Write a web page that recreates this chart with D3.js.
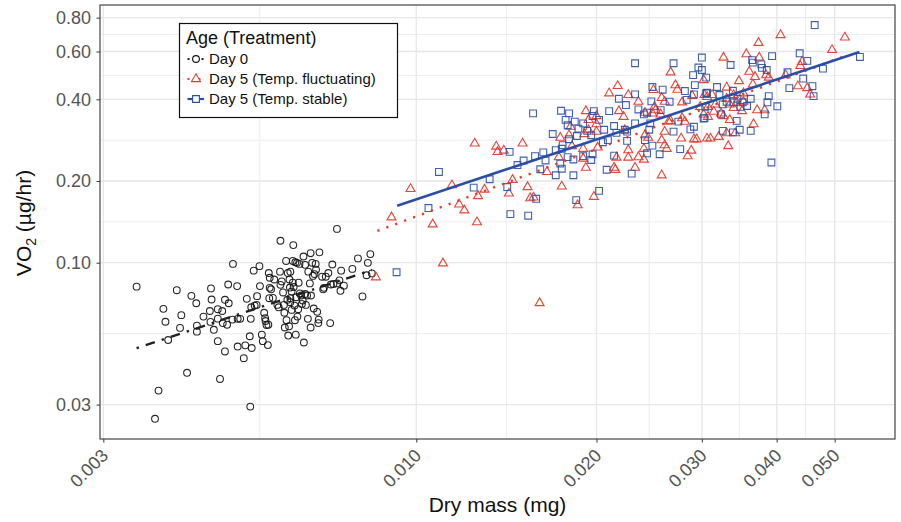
<!DOCTYPE html>
<html>
<head>
<meta charset="utf-8">
<script src="https://cdn.jsdelivr.net/npm/d3@7"></script>
<style>
  body { margin: 0; background: #fff; }
  svg { display: block; font-family: "Liberation Sans", Arial, Helvetica, sans-serif; }
</style>
</head>
<body>
<svg id="chart" width="901" height="522"></svg>
<script>
// ---------------- DATA ----------------
// Day 0 (mass in mg, VO2 in µg/hr)
const day0Mass = [0.00341,0.00366,0.00371,0.00378,0.00381,0.00385,0.00398,0.00403,0.00405,0.00414,0.00421,0.00429,0.00430,0.00430,0.00441,0.00452,0.00454,0.00455,0.00453,0.00459,0.00466,0.00466,0.00466,0.00470,0.00474,0.00475,0.00479,0.00479,0.00483,0.00485,0.00486,0.00494,0.00493,0.00502,0.00503,0.00508,0.00503,0.00515,0.00518,0.00521,0.00527,0.00528,0.00529,0.00531,0.00530,0.00535,0.00537,0.00541,0.00542,0.00547,0.00548,0.00552,0.00554,0.00557,0.00559,0.00560,0.00562,0.00565,0.00566,0.00568,0.00567,0.00569,0.00572,0.00569,0.00576,0.00579,0.00586,0.00589,0.00592,0.00593,0.00596,0.00599,0.00601,0.00602,0.00603,0.00606,0.00607,0.00609,0.00610,0.00611,0.00613,0.00614,0.00615,0.00616,0.00616,0.00616,0.00619,0.00619,0.00622,0.00622,0.00624,0.00626,0.00627,0.00628,0.00629,0.00630,0.00632,0.00633,0.00635,0.00636,0.00638,0.00639,0.00642,0.00644,0.00646,0.00648,0.00649,0.00652,0.00652,0.00654,0.00657,0.00659,0.00660,0.00664,0.00666,0.00666,0.00667,0.00670,0.00672,0.00674,0.00676,0.00679,0.00680,0.00683,0.00686,0.00687,0.00689,0.00696,0.00699,0.00701,0.00706,0.00713,0.00718,0.00720,0.00724,0.00727,0.00737,0.00744,0.00747,0.00749,0.00757,0.00782,0.00799,0.00813,0.00826,0.00830,0.00838,0.00843,0.00593,0.00623,0.00737];
const day0VO2 = [0.0816,0.0266,0.0338,0.0676,0.0606,0.0519,0.0792,0.0575,0.0641,0.0393,0.0755,0.0709,0.0557,0.0586,0.0633,0.0664,0.0804,0.0732,0.0605,0.0566,0.0514,0.0674,0.0622,0.0373,0.0664,0.0599,0.0730,0.0471,0.0591,0.0831,0.0709,0.0990,0.0617,0.0820,0.0621,0.0621,0.0491,0.0445,0.0496,0.0736,0.0536,0.0295,0.0621,0.0485,0.0685,0.0935,0.0695,0.0699,0.0753,0.0971,0.0820,0.0543,0.0514,0.0654,0.0625,0.0610,0.0589,0.0497,0.0591,0.0740,0.0916,0.0880,0.0798,0.0808,0.0742,0.0867,0.0699,0.0685,0.0927,0.0829,0.0853,0.0777,0.0699,0.0654,0.0577,0.1015,0.0614,0.0730,0.0916,0.0539,0.0583,0.0867,0.0810,0.0740,0.0715,0.0927,0.0783,0.0670,0.0844,0.1015,0.0814,0.0695,0.0614,0.1004,0.0543,0.0746,0.0999,0.0633,0.0674,0.0844,0.0990,0.0771,0.0757,0.0705,0.0726,0.1054,0.0508,0.0767,0.0982,0.0699,0.0757,0.0621,0.0927,0.0839,0.1084,0.0577,0.0757,0.0999,0.0894,0.0678,0.0908,0.0990,0.0943,0.0659,0.0599,0.0617,0.1092,0.0888,0.0798,0.0808,0.0888,0.0916,0.0599,0.0831,0.0985,0.0835,0.0839,0.0861,0.0788,0.0935,0.0823,0.0949,0.1037,0.0751,0.0899,0.0999,0.1076,0.0913,0.1205,0.1161,0.1332];

// Day 5, temperature fluctuating
const fluctMass = [0.01252,0.0136,0.01367,0.0140,0.01505,0.00978,0.01147,0.0130,0.01268,0.01179,0.01203,0.00909,0.01065,0.01263,0.01448,0.01428,0.01534,0.0155,0.0157,0.01653,0.01108,0.00856,0.01607,
  0.0266,0.0217,0.0210,0.0226,0.0249,0.0271,0.0273,0.0289,0.0303,0.0235,0.0257,0.0250,0.0260,0.0278,0.0192,0.0218,0.0222,0.0241,0.0248,0.0251,0.0256,0.0264,0.0266,0.0278,0.0281,0.0298,0.0307,0.0194,0.0200,0.0200,0.0181,0.0194,0.0200,0.0223,0.0241,0.0244,0.0260,0.0257,0.0174,0.0180,0.0191,0.0277,0.0291,0.0294,0.0306,0.0260,0.0262,0.0240,0.0226,0.0226,0.0235,0.0240,0.0216,0.0201,0.0190,0.0182,0.0173,0.0190,0.0192,0.0214,0.0215,0.0232,0.0288,0.0284,0.0257,0.0175,0.0198,0.0186,
  0.0406,0.0373,0.0520,0.0495,0.0356,0.0374,0.0326,0.0441,0.0438,0.0360,0.0368,0.0384,0.0388,0.0346,0.0414,0.0434,0.0450,0.0455,0.0365,0.0330,0.0302,0.0352,0.0339,0.0312,0.0306,0.0330,0.0343,0.0352,0.0316,0.0334,0.0339,0.0350,0.0314,0.0323,0.0326,0.0307,0.0302,0.0371,0.0382,0.0334,0.0366,0.0330,0.0341,0.0320,0.0310,0.0332];
const fluctVO2 = [0.275,0.268,0.256,0.259,0.275,0.187,0.193,0.186,0.176,0.164,0.156,0.147,0.1385,0.141,0.202,0.180,0.190,0.173,0.174,0.216,0.0995,0.0884,0.0710,
  0.503,0.448,0.421,0.415,0.433,0.451,0.434,0.412,0.415,0.392,0.405,0.375,0.392,0.390,0.362,0.362,0.345,0.357,0.355,0.365,0.352,0.331,0.333,0.341,0.331,0.375,0.375,0.336,0.347,0.324,0.317,0.308,0.304,0.308,0.295,0.289,0.304,0.283,0.289,0.295,0.298,0.287,0.285,0.285,0.287,0.271,0.263,0.263,0.260,0.244,0.245,0.240,0.244,0.266,0.263,0.269,0.245,0.242,0.224,0.224,0.220,0.224,0.259,0.247,0.210,0.191,0.175,0.163,
  0.690,0.646,0.676,0.608,0.587,0.570,0.570,0.550,0.531,0.506,0.484,0.491,0.481,0.467,0.491,0.447,0.440,0.417,0.454,0.442,0.471,0.421,0.415,0.415,0.408,0.402,0.389,0.392,0.383,0.383,0.372,0.362,0.360,0.355,0.347,0.345,0.352,0.365,0.365,0.336,0.324,0.300,0.300,0.291,0.287,0.269];

// Day 5, temperature stable
const stableMass = [0.01091,0.01048,0.01247,0.01326,0.01419,0.01436,0.01538,0.01586,0.01432,0.01476,0.01511,0.01579,0.0163,0.01644,0.01611,0.00927,
  0.0232,0.0269,0.0296,0.0290,0.0300,0.0292,0.0248,0.0258,0.0281,0.0232,0.0218,0.0224,0.0247,0.0265,0.0283,0.0291,0.0305,0.01745,0.0180,0.0198,0.0210,0.0235,0.0240,0.0243,0.0256,0.01776,0.0184,0.0197,0.0202,0.0179,0.0190,0.01866,0.0193,0.0206,0.0214,0.0216,0.0232,0.0223,0.0225,0.0225,0.0245,0.0246,0.0274,0.0287,0.0291,0.0302,0.0304,0.0269,0.0169,0.01756,0.0180,0.01855,0.0196,0.0209,0.0205,0.0241,0.0248,0.0171,0.0175,0.0179,0.0183,0.0190,0.0197,0.0196,0.0214,0.0243,0.0255,0.0276,0.0174,0.0175,0.0171,0.0183,0.0208,0.0229,0.0202,0.0185,0.01567,
  0.0463,0.0393,0.0437,0.0450,0.0478,0.0551,0.0364,0.0365,0.0377,0.0378,0.0385,0.0335,0.0300,0.0305,0.0417,0.0443,0.0459,0.0461,0.0420,0.0388,0.0386,0.0401,0.0382,0.0362,0.0357,0.0351,0.0344,0.0338,0.0318,0.0306,0.0321,0.0325,0.0330,0.0339,0.0348,0.0323,0.0303,0.0343,0.0347,0.0338,0.0325,0.0362,0.0392];
const stableVO2 = [0.216,0.159,0.189,0.203,0.190,0.151,0.149,0.172,0.256,0.229,0.238,0.247,0.255,0.238,0.221,0.0922,
  0.543,0.543,0.524,0.491,0.513,0.451,0.444,0.434,0.429,0.417,0.402,0.381,0.393,0.392,0.398,0.417,0.421,0.363,0.355,0.362,0.362,0.367,0.352,0.357,0.365,0.336,0.331,0.347,0.336,0.321,0.326,0.312,0.306,0.309,0.319,0.301,0.326,0.309,0.304,0.281,0.309,0.326,0.331,0.310,0.317,0.340,0.375,0.304,0.298,0.271,0.285,0.293,0.295,0.283,0.278,0.283,0.270,0.260,0.263,0.245,0.240,0.247,0.251,0.239,0.248,0.253,0.251,0.262,0.232,0.222,0.210,0.210,0.220,0.213,0.184,0.170,0.355,
  0.751,0.577,0.591,0.554,0.519,0.573,0.558,0.546,0.538,0.522,0.513,0.535,0.570,0.481,0.503,0.477,0.447,0.411,0.440,0.411,0.390,0.377,0.352,0.402,0.378,0.390,0.402,0.430,0.444,0.423,0.415,0.383,0.392,0.390,0.375,0.352,0.341,0.333,0.309,0.302,0.306,0.306,0.234];

// Fitted regression lines (end points, data units)
const fitDay0Mass = [0.00341, 0.00843];
const fitDay0VO2 = [0.0484, 0.0940];
const fitFluctMass = [0.00861, 0.0519];
const fitFluctVO2 = [0.1309, 0.5766];
const fitStableMass = [0.00929, 0.0550];
const fitStableVO2 = [0.1622, 0.597];

// Axis breaks
const xMajor = [0.003, 0.010, 0.020, 0.030, 0.040, 0.050];
const xLabels = ["0.003", "0.010", "0.020", "0.030", "0.040", "0.050"];
const yMajor = [0.03, 0.10, 0.20, 0.40, 0.60, 0.80];
const yLabels = ["0.03", "0.10", "0.20", "0.40", "0.60", "0.80"];

const groupNames = ["Day 0", "Day 5 (Temp. fluctuating)", "Day 5 (Temp. stable)"];
const legendTitle = "Age (Treatment)";

// ---------------- STYLE / LAYOUT ----------------
const colDay0 = "#111111", colFluct = "#E53B2C", colStable = "#2A4EA6";
const panel = { left: 100, right: 895, top: 5, bottom: 439 };

const svg = d3.select("#chart");
const x = d3.scaleLog().domain([0.002962, 0.06306]).range([panel.left, panel.right]);
const y = d3.scaleLog().domain([0.02241, 0.8903]).range([panel.bottom, panel.top]);

// minor breaks: log-midpoints between majors
const midLog = (a, b) => Math.sqrt(a * b);
const xMinor = d3.pairs(xMajor).map(([a, b]) => midLog(a, b));
const yMinor = d3.pairs(yMajor).map(([a, b]) => midLog(a, b));

const grid = svg.append("g");
grid.selectAll(".xmin").data(xMinor).join("line")
  .attr("x1", d => x(d)).attr("x2", d => x(d)).attr("y1", panel.top).attr("y2", panel.bottom)
  .attr("stroke", "#EDEDF0").attr("stroke-width", 1);
grid.selectAll(".ymin").data(yMinor).join("line")
  .attr("y1", d => y(d)).attr("y2", d => y(d)).attr("x1", panel.left).attr("x2", panel.right)
  .attr("stroke", "#EDEDF0").attr("stroke-width", 1);
grid.selectAll(".xmaj").data(xMajor).join("line")
  .attr("x1", d => x(d)).attr("x2", d => x(d)).attr("y1", panel.top).attr("y2", panel.bottom)
  .attr("stroke", "#E6E6EB").attr("stroke-width", 1.3);
grid.selectAll(".ymaj").data(yMajor).join("line")
  .attr("y1", d => y(d)).attr("y2", d => y(d)).attr("x1", panel.left).attr("x2", panel.right)
  .attr("stroke", "#E6E6EB").attr("stroke-width", 1.3);

// ---------------- POINTS ----------------
const symCircle = d3.symbol().type(d3.symbolCircle).size(36)();
const symTri = d3.symbol().type(d3.symbolTriangle).size(35)();
const symSq = d3.symbol().type(d3.symbolSquare).size(46)();

function drawPoints(mass, vo2, path, color, opacity) {
  svg.append("g").selectAll("path").data(d3.zip(mass, vo2)).join("path")
    .attr("d", path)
    .attr("transform", d => `translate(${x(d[0])},${y(d[1])})`)
    .attr("fill", "none").attr("stroke", color).attr("stroke-width", 1.1)
    .attr("stroke-opacity", opacity);
}
drawPoints(day0Mass, day0VO2, symCircle, colDay0, 0.9);
drawPoints(fluctMass, fluctVO2, symTri, colFluct, 0.95);
drawPoints(stableMass, stableVO2, symSq, colStable, 0.9);

// ---------------- FIT LINES ----------------
const line = d3.line().x(d => x(d[0])).y(d => y(d[1]));
svg.append("path").datum(d3.zip(fitDay0Mass, fitDay0VO2)).attr("d", line)
  .attr("fill", "none").attr("stroke", "#222").attr("stroke-width", 2.4)
  .attr("stroke-dasharray", "2.4,7.2,9.6,7.2");
svg.append("path").datum(d3.zip(fitFluctMass, fitFluctVO2)).attr("d", line)
  .attr("fill", "none").attr("stroke", colFluct).attr("stroke-width", 2.4)
  .attr("stroke-dasharray", "2.2,7.3");
svg.append("path").datum(d3.zip(fitStableMass, fitStableVO2)).attr("d", line)
  .attr("fill", "none").attr("stroke", colStable).attr("stroke-width", 2.6);

// ---------------- PANEL BORDER & AXES ----------------
svg.append("rect").attr("x", panel.left).attr("y", panel.top)
  .attr("width", panel.right - panel.left).attr("height", panel.bottom - panel.top)
  .attr("fill", "none").attr("stroke", "#444").attr("stroke-width", 1.2);

const yAxis = d3.axisLeft(y).tickValues(yMajor).tickFormat((d, i) => yLabels[i]).tickSize(3.5).tickPadding(5.5);
const gy = svg.append("g").attr("transform", `translate(${panel.left},0)`).call(yAxis);
gy.select(".domain").remove();
gy.selectAll(".tick line").attr("stroke", "#444").attr("stroke-width", 1.1);
gy.selectAll(".tick text").attr("fill", "#555").style("font-size", "18px")
  .style("font-family", "'Liberation Sans', Arial, sans-serif");

const xAxis = d3.axisBottom(x).tickValues(xMajor).tickFormat((d, i) => xLabels[i]).tickSize(3.5);
const gx = svg.append("g").attr("transform", `translate(0,${panel.bottom})`).call(xAxis);
gx.select(".domain").remove();
gx.selectAll(".tick line").attr("stroke", "#444").attr("stroke-width", 1.1);
gx.selectAll(".tick text").attr("fill", "#555").style("font-size", "18px")
  .style("font-family", "'Liberation Sans', Arial, sans-serif")
  .attr("text-anchor", "end").attr("y", 0).attr("dy", "0.75em")
  .attr("transform", "translate(-4,8) rotate(-45)");

// axis titles
svg.append("text").attr("x", (panel.left + panel.right) / 2).attr("y", 512)
  .attr("text-anchor", "middle").attr("fill", "#111").style("font-size", "21px").text("Dry mass (mg)");

const yt = svg.append("text").attr("transform", `translate(31,${(panel.top + panel.bottom) / 2 + 1}) rotate(-90)`)
  .attr("text-anchor", "middle").attr("fill", "#111").style("font-size", "21px");
yt.append("tspan").text("VO");
yt.append("tspan").attr("dy", 5).style("font-size", "14px").text("2");
yt.append("tspan").attr("dy", -5).text(" (µg/hr)");

// ---------------- LEGEND ----------------
const lg = svg.append("g");
lg.append("rect").attr("x", 179.5).attr("y", 23.5).attr("width", 218).attr("height", 94)
  .attr("fill", "#fff").attr("stroke", "#111").attr("stroke-width", 1.2);
lg.append("text").attr("x", 186).attr("y", 44).attr("fill", "#111").style("font-size", "18px").text(legendTitle);

const keyY = [59, 79, 99];
const keyCol = ["#222", colFluct, colStable];
const keyDash = ["2,3,6,3", "2,3.5", null];
const keySym = [symCircle, symTri, symSq];
groupNames.forEach((name, i) => {
  const cy = keyY[i];
  const l = lg.append("line").attr("x1", 187.5).attr("x2", 204).attr("y1", cy).attr("y2", cy)
    .attr("stroke", keyCol[i]).attr("stroke-width", 2.2);
  if (keyDash[i]) l.attr("stroke-dasharray", keyDash[i]);
  lg.append("path").attr("d", keySym[i]).attr("transform", `translate(196,${cy})`)
    .attr("fill", "#fff").attr("stroke", i === 0 ? colDay0 : keyCol[i]).attr("stroke-width", 1.1);
  lg.append("text").attr("x", 209).attr("y", cy + 5.3).attr("fill", "#111")
    .style("font-size", "15px").text(name);
});
</script>
</body>
</html>
